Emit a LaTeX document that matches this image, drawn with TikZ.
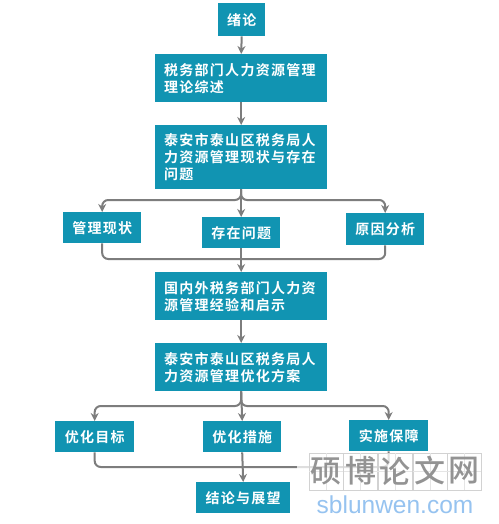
\documentclass[tikz,border=0pt]{standalone}
\usepackage{fontspec}
\setsansfont{Liberation Sans}
\newfontfamily\cjk[LetterSpace=9]{Noto Sans CJK SC Bold}
\newfontfamily\cjkmark{Noto Sans CJK SC Medium}
\usetikzlibrary{arrows.meta,positioning}
\definecolor{boxteal}{RGB}{17,148,178}
\definecolor{linegray}{RGB}{125,125,125}
\definecolor{markblue}{RGB}{150,195,240}
\tikzset{
  box/.style={fill=boxteal,text=white,font=\cjk\fontsize{14}{17}\selectfont,inner sep=0pt,anchor=north west,align=left},
  longbox/.style={box,text width=154pt,inner xsep=9pt},
  shortbox/.style={box,minimum width=78pt,minimum height=31pt,align=center},
  conn/.style={draw=linegray,line width=2pt,-{Stealth[length=8pt,width=8pt]}},
  link/.style={draw=linegray,line width=2pt,rounded corners=6pt},
  marktext/.style={inner sep=0pt,text=gray!85,font=\cjkmark\fontsize{31}{31}\selectfont},
}
\begin{document}
\begin{tikzpicture}[x=1pt,y=-1pt]
\useasboundingbox (0,0) rectangle (498,524);
\fill[white] (0,0) rectangle (498,524);
\node[shortbox,minimum width=47pt,minimum height=33pt] (a) at (218,3) {绪论};
\node[longbox,minimum height=48pt] (b) at (155,54) {税务部门人力资源管理\\理论综述};
\node[longbox,minimum height=64pt] (c) at (155,125) {泰安市泰山区税务局人\\力资源管理现状与存在\\问题};
\node[shortbox] (d1) at (63,212) {管理现状};
\node[shortbox] (d2) at (202,217) {存在问题};
\node[shortbox,minimum height=32pt] (d3) at (346,213) {原因分析};
\node[longbox,minimum height=48pt] (e) at (155,272) {国内外税务部门人力资\\源管理经验和启示};
\node[longbox,minimum height=48pt] (f) at (155,343) {泰安市泰山区税务局人\\力资源管理优化方案};
\node[shortbox,minimum width=79pt] (g1) at (55,421) {优化目标};
\node[shortbox] (g2) at (203,421) {优化措施};
\node[shortbox,minimum width=79pt] (g3) at (349,420) {实施保障};
\node[shortbox,minimum width=94pt] (h) at (196,482) {结论与展望};
% straight connectors
\draw[conn] (a.south) -- (b.north);
\draw[conn] (b.south) -- (c.north);
\draw[conn] (e.south) -- (f.north);
% first fan-out
\coordinate (s1) at (241,200);
\coordinate (m1) at (241,259);
\draw[conn,rounded corners=6pt] (c.south) -- (s1) -| (d1.north);
\draw[conn] (c.south) -- (d2.north);
\draw[conn,rounded corners=6pt] (c.south) -- (s1) -| (d3.north);
% first merge
\draw[link] (d1.south) |- (m1);
\draw[link] (d3.south) |- (m1);
\draw[conn] (d2.south) -- (e.north);
% second fan-out
\coordinate (s2) at (241,406);
\coordinate (m2) at (241,467);
\draw[conn,rounded corners=6pt] (f.south) -- (s2) -| (g1.north);
\draw[conn] (f.south) -- (g2.north);
\draw[conn,rounded corners=6pt] (f.south) -- (s2) -| (g3.north);
% second merge
\draw[link] (g1.south) |- (m2);
\draw[link] (g3.south) |- (m2);
\draw[conn] (g2.south) -- (h.north);
% watermark
\fill[white,opacity=.75] (297,453) rectangle (482,517);
\foreach \i in {0,1,2,3,4}{
  \draw[gray!35,line width=.6pt] (309+\i*34.6,453) rectangle (343+\i*34.6,490);
  \draw[gray!20,line width=.4pt] (326+\i*34.6,453) -- (326+\i*34.6,490) (309+\i*34.6,471.5) -- (343+\i*34.6,471.5);
}
\node[marktext] (w1) at (326,471) {硕};
\node[marktext] (w2) at (361,471) {博};
\node[marktext] (w3) at (395,471) {论};
\node[marktext] (w4) at (430,471) {文};
\node[marktext] (w5) at (464,471) {网};
\node[inner sep=0pt,text=markblue,font=\sffamily\fontsize{24.5}{24.5}\selectfont] (w6) at (395,505) {sblunwen.com};
\end{tikzpicture}
\end{document}
